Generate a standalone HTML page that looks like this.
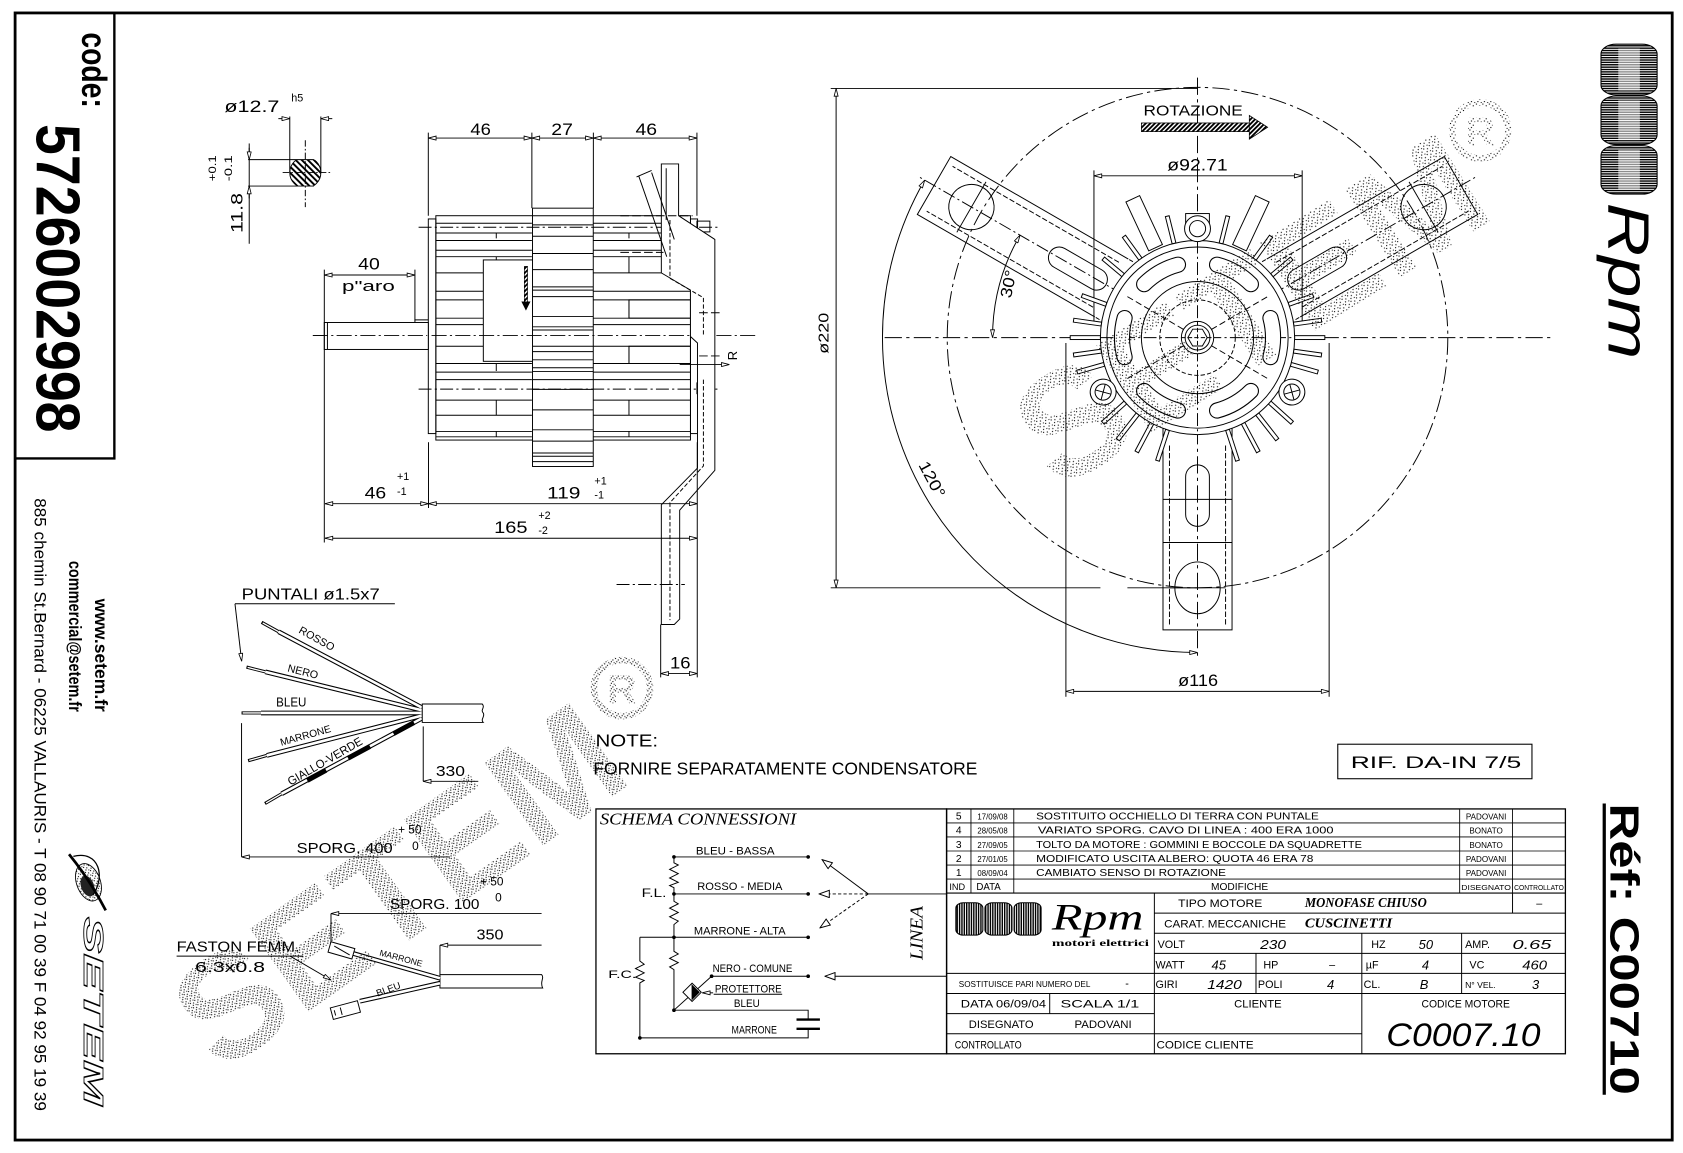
<!DOCTYPE html>
<html><head><meta charset="utf-8">
<style>
html,body{margin:0;padding:0;background:#fff;}
svg{display:block;}
text{font-family:"Liberation Sans",sans-serif;fill:#000;}
.s{font-family:"Liberation Serif",serif;}
</style></head><body>
<svg xmlns="http://www.w3.org/2000/svg" width="1683" height="1153" viewBox="0 0 1560 1069" preserveAspectRatio="none">
<defs>
<marker id="a" viewBox="0 0 10 6" refX="10" refY="3" markerWidth="8" markerHeight="4.6" markerUnits="userSpaceOnUse" orient="auto-start-reverse"><path d="M0.6,0.6 L10,3 L0.6,5.4 z" fill="#fff" stroke="#000" stroke-width="1"/></marker>
<marker id="b" viewBox="0 0 10 8" refX="10" refY="4" markerWidth="11" markerHeight="8" markerUnits="userSpaceOnUse" orient="auto-start-reverse"><path d="M0.6,0.6 L10,4 L0.6,7.4 z" fill="#fff" stroke="#000" stroke-width="0.9"/></marker>
<pattern id="dots" width="5" height="5" patternUnits="userSpaceOnUse"><rect x="0" y="0" width="1" height="1"/><rect x="2.6" y="1.4" width="1" height="1"/><rect x="1.2" y="3" width="1" height="1"/><rect x="3.8" y="3.9" width="0.9" height="0.9"/></pattern>
<pattern id="dots2" width="6" height="6" patternUnits="userSpaceOnUse"><rect x="0" y="0" width="1" height="1"/><rect x="3.1" y="1.6" width="1" height="1"/><rect x="1.4" y="3.7" width="1" height="1"/><rect x="4.5" y="4.6" width="0.9" height="0.9"/></pattern>
<pattern id="hatch" width="3" height="3" patternUnits="userSpaceOnUse" patternTransform="rotate(45)"><rect width="3" height="3" fill="#fff"/><rect width="1.7" height="3" fill="#000"/></pattern>
<pattern id="hatch2" width="4" height="4" patternUnits="userSpaceOnUse" patternTransform="rotate(-45)"><rect width="4" height="4" fill="#fff"/><rect width="1.8" height="4" fill="#000"/></pattern>
<pattern id="hl" width="2" height="2.2" patternUnits="userSpaceOnUse"><rect width="2" height="2.2" fill="#fff"/><rect width="2" height="1.3" fill="#000"/></pattern>
<pattern id="vl" width="2.2" height="2" patternUnits="userSpaceOnUse"><rect width="2.2" height="2" fill="#fff"/><rect width="1.3" height="2" fill="#000"/></pattern>
<clipPath id="c1"><rect x="260" y="148" width="50" height="24.5"/></clipPath>
</defs>

<!-- ============ BORDER ============ -->
<rect x="14" y="12" width="1536" height="1045" fill="none" stroke="#000" stroke-width="2.6"/>
<path d="M106,12V425H14" fill="none" stroke="#000" stroke-width="2.2"/>

<!-- left strip -->
<text transform="translate(76,30) rotate(90)" font-size="33" font-weight="bold" textLength="70" lengthAdjust="spacingAndGlyphs">code:</text>
<text transform="translate(34,115) rotate(90)" font-size="58" font-weight="bold" textLength="286" lengthAdjust="spacingAndGlyphs">5726002998</text>
<text transform="translate(88,660) rotate(90)" font-size="16" font-weight="bold" text-anchor="end" textLength="105" lengthAdjust="spacingAndGlyphs">www.setem.fr</text>
<text transform="translate(64,660) rotate(90)" font-size="16" font-weight="bold" text-anchor="end" textLength="140" lengthAdjust="spacingAndGlyphs">commercial@setem.fr</text>
<text transform="translate(32,462) rotate(90)" font-size="15" textLength="568" lengthAdjust="spacingAndGlyphs">885 chemin St.Bernard  -  06225 VALLAURIS  -  T 08 90 71 00 39   F 04 92 95 19 39</text>
<g transform="translate(82,818)">
<ellipse rx="11" ry="18" fill="url(#dots)" stroke="#000" stroke-width="0.8" transform="rotate(-20)"/>
<ellipse cx="-2" cy="3" rx="6" ry="10" fill="#222" transform="rotate(-20)"/>
<path d="M-18,-26 C-5,-10 5,5 16,26" stroke="#000" stroke-width="2.5" fill="none"/>
<path d="M-14,-24 C10,-30 16,-5 4,12" stroke="#000" stroke-width="1.2" fill="none"/>
</g>
<text transform="translate(78,850) rotate(90)" font-size="26" font-weight="bold" font-style="italic" stroke="#000" stroke-width="0.8" textLength="175" lengthAdjust="spacingAndGlyphs" style="fill:#fff">SETEM</text>

<!-- right strip -->
<rect x="1484" y="41" width="52" height="47" rx="14" ry="9" fill="url(#hl)" stroke="#000"/>
<rect x="1484" y="89" width="52" height="45" rx="14" ry="9" fill="url(#hl)" stroke="#000"/>
<rect x="1484" y="135" width="52" height="45" rx="14" ry="9" fill="url(#hl)" stroke="#000"/>
<g fill="#fff" opacity="0.55"><rect x="1500" y="45" width="20" height="39"/><rect x="1500" y="93" width="20" height="37"/><rect x="1500" y="139" width="20" height="37"/></g>
<text transform="translate(1491,188) rotate(90)" font-size="54" font-style="italic" textLength="145" lengthAdjust="spacingAndGlyphs">Rpm</text>
<text transform="translate(1493,745) rotate(90)" font-size="38" font-weight="bold" textLength="270" lengthAdjust="spacingAndGlyphs">Réf: C00710</text>
<line x1="1487" y1="745" x2="1487" y2="1015" stroke="#000" stroke-width="3"/>

<!-- ============ SHAFT SECTION ============ -->
<g fill="none" stroke="#000" stroke-width="0.9">
<g clip-path="url(#c1)"><circle cx="283" cy="160" r="14.4" fill="url(#hatch2)"/></g>
<path d="M230,148H291M230,172.5H291"/>
<path d="M268.6,108V160M297.4,108V160"/>
<path d="M258,110H268.6" marker-end="url(#a)"/>
<path d="M308,110H297.4" marker-end="url(#a)"/>
<path d="M283,130V192M262,160H306" stroke-dasharray="6 2 1.5 2"/>
<path d="M231,133V226"/>
<path d="M231,137V148" marker-end="url(#a)"/>
<path d="M231,184V172.5" marker-end="url(#a)"/>
</g>
<text x="208" y="104" font-size="15" textLength="51" lengthAdjust="spacingAndGlyphs">ø12.7</text>
<text x="270" y="94" font-size="10">h5</text>
<text transform="translate(200,168) rotate(-90)" font-size="10" textLength="24" lengthAdjust="spacingAndGlyphs">+0.1</text>
<text transform="translate(215,168) rotate(-90)" font-size="10" textLength="24" lengthAdjust="spacingAndGlyphs">-0.1</text>
<text transform="translate(225,216) rotate(-90)" font-size="15" textLength="37" lengthAdjust="spacingAndGlyphs">11.8</text>

<!-- ============ MOTOR SIDE VIEW ============ -->
<g fill="none" stroke="#000" stroke-width="0.9">
<path d="M397,128H493" marker-start="url(#a)" marker-end="url(#a)"/>
<path d="M493,128H550" marker-start="url(#a)" marker-end="url(#a)"/>
<path d="M550,128H646" marker-start="url(#a)" marker-end="url(#a)"/>
<path d="M397,123V200M493,123V193M550,123V193M646,123V200"/>
<rect x="404" y="200" width="236" height="208"/>
<rect x="397" y="203" width="7" height="199"/>
<rect x="640" y="203" width="6.6" height="199"/>
<path d="M404,207H493M404,216H493M404,223H493M404,232H493M404,238H493M404,253H493M404,270H493M404,278H493M404,295H493M404,301H493M404,321H493M404,337H493M404,345H493M404,352H493M404,371H493M404,385H493M404,400H493M404,405H493"/>
<path d="M550,207H640M550,216H640M550,223H640M550,232H640M550,238H640M550,253H640M550,270H640M550,278H640M550,295H640M550,301H640M550,321H640M550,337H640M550,345H640M550,352H640M550,371H640M550,385H640M550,400H640M550,405H640"/>
<path d="M460,216V221M460,238V253M460,337V344M460,371V385M460,400V405"/>
<path d="M583,216V221M583,238V253M583,278V295M583,321V337M583,371V385M583,400V405"/>
<rect x="583" y="278" width="57" height="17"/>
<rect x="583" y="321" width="57" height="16"/>
<rect x="493.6" y="193" width="56.3" height="239.5" fill="#fff"/>
<path d="M493.6,200H550M493.6,208.5H550M493.6,219H550M493.6,235H550M493.6,250H550M493.6,266H550M493.6,269H550M493.6,275H550M493.6,293.5H550M493.6,303H550M493.6,306H550M493.6,321H550M493.6,326H550M493.6,333.6H550M493.6,341H550M493.6,344.5H550M493.6,352H550M493.6,361H550M493.6,380H550M493.6,398.5H550M493.6,409H550M493.6,420H550M493.6,423H550M493.6,428H550"/>
<rect x="448" y="241" width="45.6" height="94" fill="#fff"/>
<rect x="486" y="247" width="3" height="33" fill="url(#hatch)" stroke-width="0.6"/>
<path d="M484,280L487.5,287L491,280Z" fill="#000"/>
<path d="M388,210.7H668M388,360.8H668" stroke-dasharray="12 3 2 3"/>
<path d="M290,311H700" stroke-dasharray="14 3 2 3"/>
<rect x="646" y="205" width="12" height="10"/>
<rect x="646" y="355" width="12" height="10"/>
<rect x="300.6" y="299" width="96.4" height="25" fill="#fff"/>
<path d="M303.5,299V324M384.6,299V296.6H397"/>
<path d="M290,311H396" stroke-dasharray="14 3 2 3"/>
<path d="M300.6,255H384.6" marker-start="url(#a)" marker-end="url(#a)"/>
<path d="M384.6,250V297M300.6,250V503"/>
<path d="M613,152H629V200L662.6,222V436L630,473V574L625,579H613V468L646.5,434V318L640,312V269L613,253Z" fill="#fff"/>
<path d="M617.5,156V204"/>
<path d="M621,204V258L652,276V312M652,352V432L621,466V575" stroke-dasharray="4 2"/>
<path d="M592,163L618,238M604,160L625,222M590,164L604,158" />
<path d="M575,200H642M575,234H615M648,290H668M648,330H668" stroke-dasharray="8 3"/>
<path d="M630,338H676" marker-end="url(#a)"/>
<path d="M397.2,410V471"/>
<path d="M301.2,467H397.2" marker-start="url(#a)" marker-end="url(#a)"/>
<path d="M397.2,467H646.3" marker-start="url(#a)" marker-end="url(#a)"/>
<path d="M301.2,499H646.3" marker-start="url(#a)" marker-end="url(#a)"/>
<path d="M646.3,410V628M612.4,579V628"/>
<path d="M612.4,624.5H646.3" marker-start="url(#a)" marker-end="url(#a)"/>
<path d="M571.5,541.9H634.8" stroke-dasharray="12 3 2 3"/>
</g>
<text x="436" y="125" font-size="15" textLength="19" lengthAdjust="spacingAndGlyphs">46</text>
<text x="511" y="125" font-size="15" textLength="20" lengthAdjust="spacingAndGlyphs">27</text>
<text x="589" y="125" font-size="15" textLength="20" lengthAdjust="spacingAndGlyphs">46</text>
<text x="332" y="250" font-size="15" textLength="20" lengthAdjust="spacingAndGlyphs">40</text>
<text x="317" y="270" font-size="14" textLength="49" lengthAdjust="spacingAndGlyphs">p"aro</text>
<text transform="translate(683,334) rotate(-90)" font-size="12">R</text>
<text x="338" y="462" font-size="15" textLength="20" lengthAdjust="spacingAndGlyphs">46</text>
<text x="368" y="445" font-size="10">+1</text>
<text x="368" y="459" font-size="10">-1</text>
<text x="507" y="462" font-size="15" textLength="31" lengthAdjust="spacingAndGlyphs">119</text>
<text x="551" y="449" font-size="10">+1</text>
<text x="551" y="462" font-size="10">-1</text>
<text x="458" y="494" font-size="15" textLength="31" lengthAdjust="spacingAndGlyphs">165</text>
<text x="499" y="481" font-size="10">+2</text>
<text x="499" y="495" font-size="10">-2</text>
<text x="621" y="620" font-size="15" textLength="19" lengthAdjust="spacingAndGlyphs">16</text>

<!-- ============ WIRING TOP ============ -->
<g fill="none" stroke="#000" stroke-width="0.9">
<path d="M217.8,559.8H366"/>
<path d="M217.8,559.8L224,613" marker-end="url(#a)"/>
<g stroke-width="3"><path d="M242.5,577L258.2,585.7M228.5,618.5L245.9,622.9M223.9,661H241.9M230,705.3L247.3,700.4M245.6,745L261.1,735.9"/></g>
<g stroke="#fff" stroke-width="1.2"><path d="M243.5,577.6L258.2,585.7M229.5,618.8L245.9,622.9M224.9,661H241.9M231,705L247.3,700.4M246.6,744.4L261.1,735.9"/></g>
<g stroke-width="4.4"><path d="M258.2,585.7L391,656M245.9,622.9L391,658.5M241.9,661H391M247.3,700.4L391,663.5M261.1,735.9L391,666"/></g>
<g stroke="#fff" stroke-width="2.4"><path d="M258.2,585.7L391,656M245.9,622.9L391,658.5M241.9,661H391M247.3,700.4L391,663.5M261.1,735.9L391,666"/></g>
<g stroke-width="4.4"><path d="M284.9,723.7L302.3,714.2M322.7,703.1L343,692.1M364.8,680.2L383.7,670"/></g>
<path d="M391.4,652.7H447C450,656 445,658 447.9,661C450,664 445,667 447.9,669.8H391.4Z" fill="#fff"/>
<path d="M392.3,673.5V724.4"/>
<path d="M443.3,724.4H392.3" marker-end="url(#a)"/>
<path d="M223.9,670.4V794.5"/>
<path d="M417,794.5H223.9" marker-end="url(#a)"/>
</g>
<text x="224" y="556" font-size="14.5" textLength="128" lengthAdjust="spacingAndGlyphs">PUNTALI ø1.5x7</text>
<text transform="translate(292,595) rotate(29)" font-size="10" text-anchor="middle">ROSSO</text>
<text transform="translate(280,626) rotate(14)" font-size="10" text-anchor="middle">NERO</text>
<text x="256" y="655" font-size="12" textLength="28" lengthAdjust="spacingAndGlyphs">BLEU</text>
<text transform="translate(284,685) rotate(-15.6)" font-size="9.5" text-anchor="middle">MARRONE</text>
<text transform="translate(303,709) rotate(-30)" font-size="11" text-anchor="middle" textLength="78" lengthAdjust="spacingAndGlyphs">GIALLO-VERDE</text>
<text x="404" y="719.5" font-size="14" textLength="27" lengthAdjust="spacingAndGlyphs">330</text>
<text x="275" y="790.8" font-size="14" textLength="89" lengthAdjust="spacingAndGlyphs">SPORG. 400</text>
<text x="369" y="773" font-size="11">+ 50</text>
<text x="382" y="788" font-size="11">0</text>

<!-- ============ WIRING BOTTOM ============ -->
<g fill="none" stroke="#000" stroke-width="0.9">
<path d="M502,847H306.8" marker-end="url(#a)"/>
<path d="M306.8,847V880"/>
<path d="M502,876.3H407.8" marker-end="url(#a)"/>
<path d="M407.8,876.3V903.6"/>
<path d="M407.8,903.6H502C505,907 500,910 503,916H407.8Z" fill="#fff"/>
<g stroke-width="4.4"><path d="M407.8,907L327.4,884M407.8,911.6L333.6,928.3"/></g>
<g stroke="#fff" stroke-width="2.4"><path d="M407.8,907L327.4,884M407.8,911.6L333.6,928.3"/></g>
<rect x="305" y="876" width="23" height="10" transform="rotate(16 316 881)" fill="#fff"/>
<path d="M309,879L325,883" transform="rotate(16 316 881)"/>
<rect x="307" y="931" width="26" height="11" transform="rotate(-15 320 936)" fill="#fff"/>
<path d="M310,934V939M316,933V940" transform="rotate(-15 320 936)"/>
<path d="M163.7,886.5H281"/>
<path d="M269,886.5L306.8,908.6" marker-end="url(#a)"/>
</g>
<text x="361.4" y="842.7" font-size="14" textLength="83" lengthAdjust="spacingAndGlyphs">SPORG. 100</text>
<text x="445" y="821" font-size="11">+ 50</text>
<text x="459" y="836" font-size="11">0</text>
<text x="441.7" y="871.2" font-size="14" textLength="25" lengthAdjust="spacingAndGlyphs">350</text>
<text x="163.7" y="882" font-size="14" textLength="114" lengthAdjust="spacingAndGlyphs">FASTON FEMM.</text>
<text x="180.7" y="901.4" font-size="14" textLength="65" lengthAdjust="spacingAndGlyphs">6.3x0.8</text>
<text transform="translate(371,891) rotate(15)" font-size="8" text-anchor="middle">MARRONE</text>
<text transform="translate(361,920) rotate(-20)" font-size="9" text-anchor="middle">BLEU</text>

<!-- ============ NOTES ============ -->
<text x="552" y="692" font-size="16" textLength="58" lengthAdjust="spacingAndGlyphs">NOTE:</text>
<text x="550" y="718" font-size="16" textLength="356" lengthAdjust="spacingAndGlyphs">FORNIRE SEPARATAMENTE CONDENSATORE</text>
<rect x="1240" y="690" width="180" height="32" fill="none" stroke="#000" stroke-width="1"/>
<text x="1252" y="712" font-size="15" textLength="158" lengthAdjust="spacingAndGlyphs">RIF. DA-IN 7/5</text>

<!-- ============ SCHEMA ============ -->
<g fill="none" stroke="#000" stroke-width="0.9">
<rect x="552.4" y="750" width="325" height="227" stroke-width="1.2"/>
<path d="M624.7,794.5V800L628.7,802L620.7,806L628.7,810L620.7,814L628.7,818L620.7,821L624.7,823V835.6L628.7,838L620.7,842L628.7,846L620.7,850L628.7,854L624.7,857.2V882L628.7,884.5L620.7,888.5L628.7,892.5L620.7,896.5L624.7,899V936.6"/>
<path d="M624.7,794.5H749.1M624.7,828.8H749.1M593.1,869H749.1M659.6,905.1H749.1M624.7,936.6H749.1V945.3"/>
<path d="M593.1,869V891L597.1,894L589.1,898L597.1,902L589.1,906L597.1,909L593.1,911.3V962.3H749.1V953.9"/>
<path d="M738.3,945.3H760M738.3,953.9H760" stroke-width="2.2"/>
<path d="M624.7,936.6L659.6,905.1"/>
<rect x="635.5" y="914" width="12" height="12" transform="rotate(45 641.5 920)" fill="#fff"/>
<path d="M641.5,913.5L648,920L641.5,926.5Z" fill="#000"/>
<path d="M661,920.5H651" marker-end="url(#a)"/>
<path d="M661.5,921.8H725"/>
<path d="M804.8,828.8L762,797" marker-end="url(#b)"/>
<path d="M804.8,828.8H759.3" stroke-dasharray="3 2" marker-end="url(#b)"/>
<path d="M804.8,828.8L760,860.3" stroke-dasharray="3 2" marker-end="url(#b)"/>
<path d="M804.8,828.8H877"/>
<path d="M877,905.1H764.6" marker-end="url(#b)"/>
</g>
<g fill="#000">
<circle cx="624.7" cy="794.5" r="1.7"/><circle cx="624.7" cy="828.8" r="1.7"/><circle cx="624.7" cy="869" r="1.7"/><circle cx="624.7" cy="936.6" r="1.7"/><circle cx="593.1" cy="962.3" r="1.7"/><circle cx="659.6" cy="905.1" r="1.7"/>
<circle cx="749.1" cy="794.5" r="1.7"/><circle cx="749.1" cy="828.8" r="1.7"/><circle cx="749.1" cy="869" r="1.7"/><circle cx="749.1" cy="905.1" r="1.7"/>
</g>
<text x="556" y="764.6" class="s" font-size="16" font-style="italic" textLength="182" lengthAdjust="spacingAndGlyphs">SCHEMA CONNESSIONI</text>
<text x="645" y="792.4" font-size="10.5" textLength="73" lengthAdjust="spacingAndGlyphs">BLEU - BASSA</text>
<text x="646.3" y="825.4" font-size="10.5" textLength="79" lengthAdjust="spacingAndGlyphs">ROSSO - MEDIA</text>
<text x="643.2" y="866.5" font-size="10.5" textLength="85" lengthAdjust="spacingAndGlyphs">MARRONE - ALTA</text>
<text x="660.5" y="901.4" font-size="10.5" textLength="74" lengthAdjust="spacingAndGlyphs">NERO - COMUNE</text>
<text x="662.6" y="920" font-size="10" textLength="62" lengthAdjust="spacingAndGlyphs">PROTETTORE</text>
<text x="680.3" y="933.6" font-size="10.5" textLength="24" lengthAdjust="spacingAndGlyphs">BLEU</text>
<text x="678.1" y="958.3" font-size="10.5" textLength="42" lengthAdjust="spacingAndGlyphs">MARRONE</text>
<text x="594.7" y="831.6" font-size="11" textLength="23" lengthAdjust="spacingAndGlyphs">F.L.</text>
<text x="563.8" y="906.7" font-size="10" textLength="26" lengthAdjust="spacingAndGlyphs">F.C.</text>
<text transform="translate(855,890) rotate(-90)" class="s" font-size="17" font-style="italic" textLength="50" lengthAdjust="spacingAndGlyphs">LINEA</text>

<!-- ============ TITLE TABLE ============ -->
<g fill="none" stroke="#000">
<rect x="877.4" y="750" width="573.6" height="227" stroke-width="1.2"/>
<path d="M877.4,763H1451M877.4,776H1451M877.4,789H1451M877.4,802H1451M877.4,815H1451" stroke-width="0.8"/>
<path d="M877.4,828H1451" stroke-width="1.1"/>
<path d="M900,750V828M939.7,750V828M1353,750V828M1402,750V828" stroke-width="0.8"/>
<path d="M1070,846.6H1451M1070,865.3H1451M1070,883.9H1451M877.4,902.5H1451M877.4,921.1H1451M877.4,939.8H1070M877.4,958.4H1262.3" stroke-width="0.9"/>
<path d="M1070,828V977M1402,828V846.6M1262.3,865.3V977M1354.8,865.3V921.1M1164.2,883.9V921.1M973,921.1V939.8" stroke-width="0.9"/>
</g>
<g font-size="9.5">
<text x="886" y="760">5</text><text x="886" y="773">4</text><text x="886" y="786">3</text><text x="886" y="799">2</text><text x="886" y="812">1</text>
<text x="906" y="760" font-size="8" textLength="28" lengthAdjust="spacingAndGlyphs">17/09/08</text>
<text x="906" y="773" font-size="8" textLength="28" lengthAdjust="spacingAndGlyphs">28/05/08</text>
<text x="906" y="786" font-size="8" textLength="28" lengthAdjust="spacingAndGlyphs">27/09/05</text>
<text x="906" y="799" font-size="8" textLength="28" lengthAdjust="spacingAndGlyphs">27/01/05</text>
<text x="906" y="812" font-size="8" textLength="28" lengthAdjust="spacingAndGlyphs">08/09/04</text>
<text x="960.4" y="760" textLength="262" lengthAdjust="spacingAndGlyphs">SOSTITUITO OCCHIELLO DI TERRA CON PUNTALE</text>
<text x="962" y="773" textLength="274" lengthAdjust="spacingAndGlyphs">VARIATO SPORG. CAVO DI LINEA : 400 ERA 1000</text>
<text x="960.4" y="786" textLength="302" lengthAdjust="spacingAndGlyphs">TOLTO DA MOTORE : GOMMINI E BOCCOLE DA SQUADRETTE</text>
<text x="960.4" y="799" textLength="257" lengthAdjust="spacingAndGlyphs">MODIFICATO USCITA ALBERO: QUOTA 46 ERA 78</text>
<text x="960.4" y="812" textLength="176" lengthAdjust="spacingAndGlyphs">CAMBIATO SENSO DI ROTAZIONE</text>
<text x="1377.5" y="760" font-size="7.5" text-anchor="middle">PADOVANI</text>
<text x="1377.5" y="773" font-size="7.5" text-anchor="middle">BONATO</text>
<text x="1377.5" y="786" font-size="7.5" text-anchor="middle">BONATO</text>
<text x="1377.5" y="799" font-size="7.5" text-anchor="middle">PADOVANI</text>
<text x="1377.5" y="812" font-size="7.5" text-anchor="middle">PADOVANI</text>
<text x="880" y="825" font-size="8.5">IND</text>
<text x="905" y="825" font-size="9">DATA</text>
<text x="1149" y="825" text-anchor="middle" textLength="53" lengthAdjust="spacingAndGlyphs">MODIFICHE</text>
<text x="1354.5" y="825" font-size="7.2" textLength="46" lengthAdjust="spacingAndGlyphs">DISEGNATO</text>
<text x="1403.5" y="825" font-size="7" textLength="46" lengthAdjust="spacingAndGlyphs">CONTROLLATO</text>
</g>
<rect x="886" y="837" width="25" height="30" rx="7" ry="5" fill="url(#vl)" stroke="#000"/>
<rect x="913" y="837" width="25" height="30" rx="7" ry="5" fill="url(#vl)" stroke="#000"/>
<rect x="940" y="837" width="25" height="30" rx="7" ry="5" fill="url(#vl)" stroke="#000"/>
<text x="975" y="862" class="s" font-size="34" font-style="italic" textLength="85" lengthAdjust="spacingAndGlyphs">Rpm</text>
<text x="975" y="877" class="s" font-size="8.5" font-weight="bold" textLength="90" lengthAdjust="spacingAndGlyphs">motori elettrici</text>
<g font-size="10">
<text x="888.7" y="915" font-size="7.5" textLength="122" lengthAdjust="spacingAndGlyphs">SOSTITUISCE PARI NUMERO DEL</text>
<text x="1043" y="915">-</text>
<text x="890.6" y="934" textLength="79" lengthAdjust="spacingAndGlyphs">DATA   06/09/04</text>
<text x="983" y="934" textLength="73" lengthAdjust="spacingAndGlyphs">SCALA    1/1</text>
<text x="898" y="953" textLength="60" lengthAdjust="spacingAndGlyphs">DISEGNATO</text>
<text x="996" y="953" textLength="53" lengthAdjust="spacingAndGlyphs">PADOVANI</text>
<text x="885" y="972" textLength="62" lengthAdjust="spacingAndGlyphs">CONTROLLATO</text>
<text x="1092" y="841" textLength="78" lengthAdjust="spacingAndGlyphs">TIPO MOTORE</text>
<text x="1079" y="860" textLength="113" lengthAdjust="spacingAndGlyphs">CARAT. MECCANICHE</text>
<text x="1424" y="841">–</text>
<text x="1073" y="879">VOLT</text>
<text x="1271" y="879">HZ</text>
<text x="1358" y="879">AMP.</text>
<text x="1071" y="898">WATT</text>
<text x="1171" y="898">HP</text>
<text x="1232" y="898">–</text>
<text x="1266" y="898">µF</text>
<text x="1362" y="898">VC</text>
<text x="1071" y="916">GIRI</text>
<text x="1166" y="916">POLI</text>
<text x="1264" y="916">CL.</text>
<text x="1358" y="916" font-size="8">N° VEL.</text>
<text x="1166" y="934" text-anchor="middle" textLength="44" lengthAdjust="spacingAndGlyphs">CLIENTE</text>
<text x="1358.6" y="934" text-anchor="middle" textLength="82" lengthAdjust="spacingAndGlyphs">CODICE MOTORE</text>
<text x="1072" y="972" textLength="90" lengthAdjust="spacingAndGlyphs">CODICE CLIENTE</text>
</g>
<g class="s" font-style="italic" font-weight="bold" font-size="12.5">
<text x="1209.5" y="841" class="s" textLength="113" lengthAdjust="spacingAndGlyphs">MONOFASE CHIUSO</text>
<text x="1209.5" y="860" class="s" textLength="81" lengthAdjust="spacingAndGlyphs">CUSCINETTI</text>
</g>
<g font-style="italic" font-size="12">
<text x="1168" y="880" textLength="24" lengthAdjust="spacingAndGlyphs">230</text>
<text x="1315" y="880">50</text>
<text x="1402" y="880" textLength="36" lengthAdjust="spacingAndGlyphs">0.65</text>
<text x="1123" y="899">45</text>
<text x="1318" y="899">4</text>
<text x="1411" y="899" textLength="23" lengthAdjust="spacingAndGlyphs">460</text>
<text x="1119" y="917" textLength="32" lengthAdjust="spacingAndGlyphs">1420</text>
<text x="1230" y="917">4</text>
<text x="1316" y="917">B</text>
<text x="1420" y="917">3</text>
</g>
<text x="1285" y="970" font-size="30" font-style="italic" textLength="143" lengthAdjust="spacingAndGlyphs">C0007.10</text>

<!-- ============ ROTOR FRONT VIEW ============ -->
<g fill="none" stroke="#000" stroke-width="0.9">
<path d="M775,82V545" marker-start="url(#a)" marker-end="url(#a)"/>
<path d="M770,82H1110M770,545H1020M1045,545H1110"/>
<path d="M820,313H1440M1110,72V612" stroke-dasharray="16 4 3 4"/>
<path d="M1014,163H1207" marker-start="url(#a)" marker-end="url(#a)"/>
<path d="M1014,158V300M1207,158V300"/>
<path d="M988,641H1232" marker-start="url(#a)" marker-end="url(#a)"/>
<path d="M988,318V646M1232,318V646"/>
<path d="M857.1,167A292,292 0 0 0 1110,605" marker-start="url(#a)" marker-end="url(#a)"/>
<path d="M945.5,218A190,190 0 0 0 920,313" marker-start="url(#a)" marker-end="url(#a)"/>
<rect x="1058" y="114" width="100" height="8" fill="url(#hatch)" stroke-width="0.7"/>
<path d="M1158,107L1175,118L1158,129Z" fill="url(#hatch)" stroke-width="0.7"/>
</g>
<text x="1060" y="107" font-size="14" textLength="92" lengthAdjust="spacingAndGlyphs">ROTAZIONE</text>
<text x="1082" y="158" font-size="15" textLength="56" lengthAdjust="spacingAndGlyphs">ø92.71</text>
<text x="1092" y="636" font-size="15" textLength="37" lengthAdjust="spacingAndGlyphs">ø116</text>
<text transform="translate(768,328) rotate(-90)" font-size="14" textLength="38" lengthAdjust="spacingAndGlyphs">ø220</text>
<text transform="translate(937,277) rotate(-78)" font-size="15" textLength="26" lengthAdjust="spacingAndGlyphs">30°</text>
<text transform="translate(851,431) rotate(62)" font-size="15" textLength="36" lengthAdjust="spacingAndGlyphs">120°</text>

<g transform="translate(1110,313)" fill="none" stroke="#000" stroke-width="0.9">
<circle r="232" stroke-dasharray="16 4 3 4"/>
<g transform="rotate(210)">
<path d="M20,0H300" stroke-dasharray="12 3 2 3"/>
<path d="M92,-31H282V31H92"/>
<path d="M45,-31H92M45,31H92" stroke-dasharray="4 2"/>
<path d="M98,-24H276M98,24H276" stroke-dasharray="5 2"/>
<rect x="98" y="-10" width="60" height="20" rx="10"/>
<circle cx="242" r="21"/>
<path d="M242,-27V27"/>
</g>
<g transform="rotate(-30)">
<path d="M20,0H300" stroke-dasharray="12 3 2 3"/>
<path d="M92,-31H282V31H92"/>
<path d="M45,-31H92M45,31H92" stroke-dasharray="4 2"/>
<path d="M98,-24H276M98,24H276" stroke-dasharray="5 2"/>
<rect x="98" y="-10" width="60" height="20" rx="10"/>
<circle cx="242" r="21"/>
<path d="M242,-27V27"/>
</g>
<g transform="rotate(90)">
<path d="M44,-32H271V32H44"/>
<path d="M100,-26H266M100,26H266" stroke-dasharray="5 2"/>
<rect x="118" y="-11" width="57" height="22" rx="11"/>
<path d="M150,-32V32M190,-32V32"/>
<ellipse cx="232" rx="24" ry="21"/>
<path d="M232,-26V26"/>
</g>
<g fill="#fff">
<rect transform="rotate(-160)" x="90" y="-1.8" width="24" height="3.6"/>
<rect transform="rotate(-140)" x="90" y="-1.8" width="24" height="3.6"/>
<rect transform="rotate(-126)" x="90" y="-1.8" width="26" height="3.6"/>
<rect transform="rotate(-104)" x="90" y="-1.8" width="26" height="3.6"/>
<rect transform="rotate(-76)" x="90" y="-1.8" width="26" height="3.6"/>
<rect transform="rotate(-54)" x="90" y="-1.8" width="26" height="3.6"/>
<rect transform="rotate(-40)" x="90" y="-1.8" width="24" height="3.6"/>
<rect transform="rotate(-20)" x="90" y="-1.8" width="24" height="3.6"/>
<rect transform="rotate(-8)" x="90" y="-1.8" width="26" height="3.6"/>
<rect transform="rotate(0)" x="90" y="-1.8" width="28" height="3.6"/>
<rect transform="rotate(8)" x="90" y="-1.8" width="26" height="3.6"/>
<rect transform="rotate(16)" x="90" y="-1.8" width="26" height="3.6"/>
<rect transform="rotate(42)" x="90" y="-1.8" width="28" height="3.6"/>
<rect transform="rotate(52)" x="90" y="-1.8" width="30" height="3.6"/>
<rect transform="rotate(62)" x="90" y="-1.8" width="30" height="3.6"/>
<rect transform="rotate(72)" x="90" y="-1.8" width="30" height="3.6"/>
<rect transform="rotate(108)" x="90" y="-1.8" width="30" height="3.6"/>
<rect transform="rotate(118)" x="90" y="-1.8" width="30" height="3.6"/>
<rect transform="rotate(128)" x="90" y="-1.8" width="30" height="3.6"/>
<rect transform="rotate(138)" x="90" y="-1.8" width="28" height="3.6"/>
<rect transform="rotate(164)" x="90" y="-1.8" width="26" height="3.6"/>
<rect transform="rotate(172)" x="90" y="-1.8" width="26" height="3.6"/>
<rect transform="rotate(180)" x="90" y="-1.8" width="28" height="3.6"/>
<rect transform="rotate(188)" x="90" y="-1.8" width="26" height="3.6"/>
<rect transform="rotate(-115)" x="92" y="-7" width="50" height="14"/>
<rect transform="rotate(-65)" x="92" y="-7" width="50" height="14"/>
</g>
<circle r="90" fill="#fff"/>
<circle r="84"/>
<circle r="52"/>
<circle r="35" stroke-dasharray="4 2"/>
<path d="M-90,0H90M0,-90V90" stroke-dasharray="12 3 2 3"/>
<g stroke-linecap="round">
<g stroke-width="15"><path transform="rotate(0)" d="M67.6,-18.1A70,70 0 0 1 67.6,18.1"/><path transform="rotate(60)" d="M67.6,-18.1A70,70 0 0 1 67.6,18.1"/><path transform="rotate(120)" d="M67.6,-18.1A70,70 0 0 1 67.6,18.1"/><path transform="rotate(180)" d="M67.6,-18.1A70,70 0 0 1 67.6,18.1"/><path transform="rotate(240)" d="M67.6,-18.1A70,70 0 0 1 67.6,18.1"/><path transform="rotate(300)" d="M67.6,-18.1A70,70 0 0 1 67.6,18.1"/></g>
<g stroke-width="13" stroke="#fff"><path transform="rotate(0)" d="M67.6,-18.1A70,70 0 0 1 67.6,18.1"/><path transform="rotate(60)" d="M67.6,-18.1A70,70 0 0 1 67.6,18.1"/><path transform="rotate(120)" d="M67.6,-18.1A70,70 0 0 1 67.6,18.1"/><path transform="rotate(180)" d="M67.6,-18.1A70,70 0 0 1 67.6,18.1"/><path transform="rotate(240)" d="M67.6,-18.1A70,70 0 0 1 67.6,18.1"/><path transform="rotate(300)" d="M67.6,-18.1A70,70 0 0 1 67.6,18.1"/></g>
</g>
<path d="M-65,-38L65,38M-65,38L65,-38" stroke-dasharray="6 3"/>
<rect x="-11" y="-115" width="22" height="16" fill="#fff"/>
<g transform="rotate(-90) translate(101,0)"><circle r="12" fill="#fff"/><circle r="7.5"/></g>
<g transform="rotate(30) translate(101,0)"><circle r="12" fill="#fff"/><circle r="7.5"/><path d="M-5,-5L5,5M-5,5L5,-5"/></g>
<g transform="rotate(150) translate(101,0)"><circle r="12" fill="#fff"/><circle r="7.5"/><path d="M-5,-5L5,5M-5,5L5,-5"/></g>
<circle r="15" fill="#fff"/>
<circle r="11.5"/>
<path d="M9,0L4.5,7.8L-4.5,7.8L-9,0L-4.5,-7.8L4.5,-7.8Z"/>
<path d="M-15,0H15M0,-15V15" stroke-dasharray="4 2"/>
</g>

<!-- ============ WATERMARKS (stipple) ============ -->
<text transform="translate(204,996) rotate(-35.3)" font-size="137" font-weight="bold" style="fill:url(#dots)">SETEM</text>
<circle cx="576.5" cy="638" r="26" fill="none" stroke="url(#dots)" stroke-width="6"/>
<text x="576.5" y="652" font-size="38" font-weight="bold" text-anchor="middle" style="fill:url(#dots)">R</text>
<text transform="translate(980,456) rotate(-32)" font-size="140" font-weight="bold" style="fill:url(#dots2)">SETEM</text>
<circle cx="1372" cy="121" r="26" fill="none" stroke="url(#dots2)" stroke-width="6"/>
<text x="1372" y="135" font-size="38" font-weight="bold" text-anchor="middle" style="fill:url(#dots2)">R</text>
</svg>
</body></html>
